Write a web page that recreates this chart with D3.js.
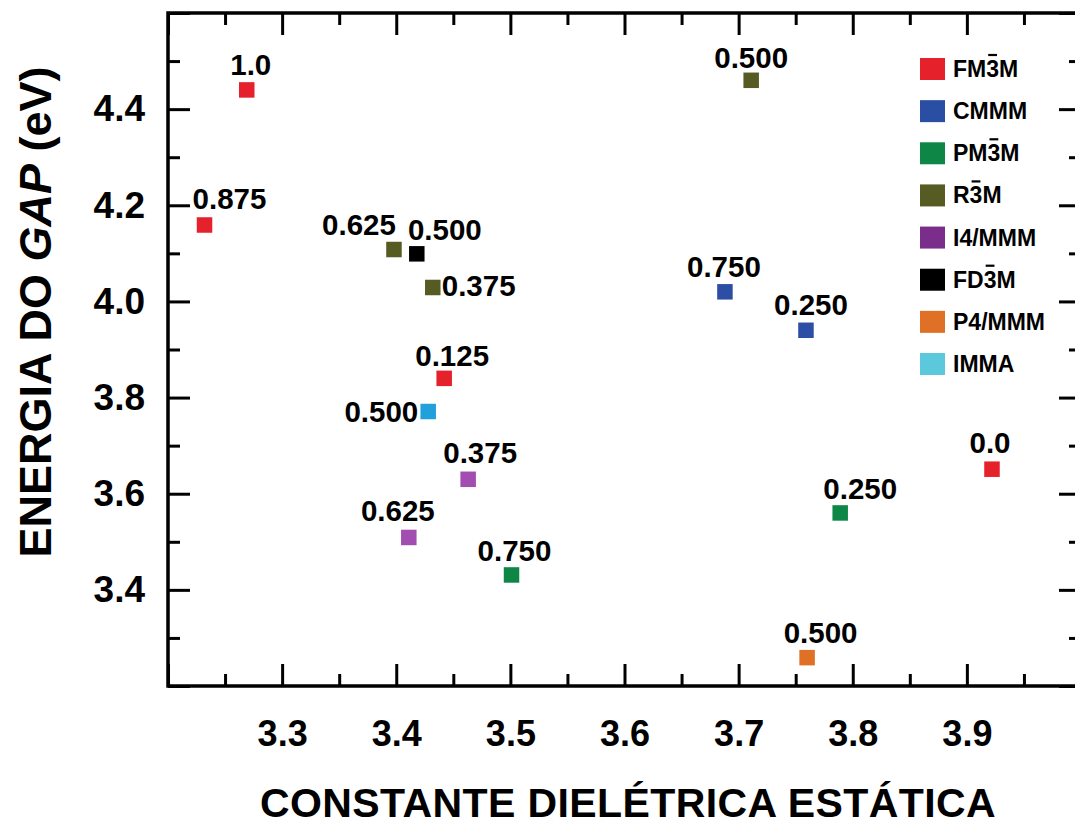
<!DOCTYPE html>
<html>
<head>
<meta charset="utf-8">
<script src="https://cdn.jsdelivr.net/npm/d3@7/dist/d3.min.js"></script>
<style>
  html, body { margin: 0; padding: 0; background: #fff; }
  svg { display: block; }
  text { font-family: "Liberation Sans", Arial, sans-serif; font-weight: bold; fill: #000; }
</style>
</head>
<body>
<svg id="chart" width="1075" height="826"></svg>
<script>
// ---------- DATA ----------
const phases = ["FM3M", "CMMM", "PM3M", "R3M", "I4/MMM", "FD3M", "P4/MMM", "IMMA"];
const phaseBarIndex = [2, -1, 2, 1, -1, 2, -1, -1]; // index of the "3" carrying an overbar
const legendColors = ["#e5212b", "#2a4ea3", "#0e8746", "#565a23", "#7b2d8c", "#000000", "#e07026", "#5cc8dc"];
const pointColors  = ["#e5212b", "#2c4fa5", "#0e8746", "#565a23", "#a24db0", "#000000", "#e07026", "#22a0dc"];

const pointPhase = [0, 0, 0, 0, 1, 1, 2, 2, 3, 3, 3, 4, 4, 5, 6, 7];
const pointX = [3.269, 3.232, 3.442, 3.922, 3.688, 3.759, 3.789, 3.501, 3.711, 3.398, 3.432, 3.463, 3.411, 3.418, 3.760, 3.428];
const pointY = [4.440, 4.159, 3.840, 3.651, 4.020, 3.940, 3.560, 3.431, 4.460, 4.108, 4.029, 3.630, 3.509, 4.099, 3.259, 3.771];
const pointLabel = ["1.0", "0.875", "0.125", "0.0", "0.750", "0.250", "0.250", "0.750", "0.500", "0.625", "0.375", "0.375", "0.625", "0.500", "0.500", "0.500"];

const xMajorTicks = [3.2, 3.3, 3.4, 3.5, 3.6, 3.7, 3.8, 3.9, 4.0];
const xMinorTicks = [3.25, 3.35, 3.45, 3.55, 3.65, 3.75, 3.85, 3.95];
const xTickLabels = [3.3, 3.4, 3.5, 3.6, 3.7, 3.8, 3.9];
const yMajorTicks = [3.2, 3.4, 3.6, 3.8, 4.0, 4.2, 4.4, 4.6];
const yMinorTicks = [3.3, 3.5, 3.7, 3.9, 4.1, 4.3, 4.5];
const yTickLabels = [3.4, 3.6, 3.8, 4.0, 4.2, 4.4];

// label placement (layout only): [anchor, dx, dy]
const labelPlacement = [
  ["middle", 4, -15], ["middle", 25, -16], ["middle", 8, -12], ["middle", -2, -16.5],
  ["middle", -1, -14.5], ["middle", 5, -15], ["middle", 20, -14], ["middle", 3, -14],
  ["middle", 0, -12], ["middle", -35, -15], ["start", 9, 9], ["middle", 12, -16.5],
  ["middle", -11, -16.5], ["middle", 28, -13.5], ["middle", 13.5, -14.5], ["end", -10, 10]
];

// ---------- LAYOUT ----------
const svg = d3.select("#chart");
const L = 168, R = 1081, T = 13, B = 686;
const x = d3.scaleLinear().domain([3.2, 4.0]).range([L, R]);
const y = d3.scaleLinear().domain([3.2, 4.6]).range([B, T]);

const axisStroke = 3;
function styleTicks(g) {
  g.select(".domain").remove();
  g.selectAll(".tick line").attr("stroke", "#000").attr("stroke-width", axisStroke);
  g.selectAll(".tick text").remove();
}

// bottom
svg.append("g").attr("transform", `translate(0,${B})`)
  .call(d3.axisBottom(x).tickValues(xMajorTicks).tickSize(-22).tickFormat("")).call(styleTicks);
svg.append("g").attr("transform", `translate(0,${B})`)
  .call(d3.axisBottom(x).tickValues(xMinorTicks).tickSize(-12).tickFormat("")).call(styleTicks);
// top
svg.append("g").attr("transform", `translate(0,${T})`)
  .call(d3.axisTop(x).tickValues(xMajorTicks).tickSize(-22).tickFormat("")).call(styleTicks);
svg.append("g").attr("transform", `translate(0,${T})`)
  .call(d3.axisTop(x).tickValues(xMinorTicks).tickSize(-12).tickFormat("")).call(styleTicks);
// left
svg.append("g").attr("transform", `translate(${L},0)`)
  .call(d3.axisLeft(y).tickValues(yMajorTicks).tickSize(-22).tickFormat("")).call(styleTicks);
svg.append("g").attr("transform", `translate(${L},0)`)
  .call(d3.axisLeft(y).tickValues(yMinorTicks).tickSize(-12).tickFormat("")).call(styleTicks);
// right
svg.append("g").attr("transform", `translate(${R},0)`)
  .call(d3.axisRight(y).tickValues(yMajorTicks).tickSize(-22).tickFormat("")).call(styleTicks);
svg.append("g").attr("transform", `translate(${R},0)`)
  .call(d3.axisRight(y).tickValues(yMinorTicks).tickSize(-12).tickFormat("")).call(styleTicks);

// frame
svg.append("rect").attr("x", L).attr("y", T).attr("width", R - L).attr("height", B - T)
  .attr("fill", "none").attr("stroke", "#000").attr("stroke-width", 3.5);

// tick labels
const xl = svg.append("g").attr("transform", `translate(0,${B})`)
  .call(d3.axisBottom(x).tickValues(xTickLabels).tickSize(0).tickPadding(34).tickFormat(d3.format(".1f")));
xl.select(".domain").remove();
xl.selectAll("text").attr("font-size", 36).attr("font-family", "Liberation Sans, Arial, sans-serif").attr("font-weight", "bold").attr("fill", "#000");

const yl = svg.append("g").attr("transform", `translate(${L},0)`)
  .call(d3.axisLeft(y).tickValues(yTickLabels).tickSize(0).tickPadding(23).tickFormat(d3.format(".1f")));
yl.select(".domain").remove();
yl.selectAll("text").attr("font-size", 37).attr("font-family", "Liberation Sans, Arial, sans-serif").attr("font-weight", "bold").attr("fill", "#000");

// axis titles
svg.append("text").attr("x", 628).attr("y", 817).attr("text-anchor", "middle")
  .attr("font-size", 41).attr("letter-spacing", 0.4).text("CONSTANTE DIELÉTRICA ESTÁTICA");

const yt = svg.append("text").attr("transform", "translate(51,312) rotate(-90)")
  .attr("text-anchor", "middle").attr("font-size", 45);
yt.append("tspan").text("ENERGIA DO ");
yt.append("tspan").attr("font-style", "italic").text("GAP");
yt.append("tspan").text(" (eV)");

// points
const S = 15.5;
const idx = d3.range(pointX.length);
svg.append("g").selectAll("rect").data(idx).join("rect")
  .attr("x", i => x(pointX[i]) - S / 2)
  .attr("y", i => y(pointY[i]) - S / 2)
  .attr("width", S).attr("height", S)
  .attr("fill", i => pointColors[pointPhase[i]]);

svg.append("g").selectAll("text").data(idx).join("text")
  .attr("x", i => x(pointX[i]) + labelPlacement[i][1])
  .attr("y", i => y(pointY[i]) + labelPlacement[i][2])
  .attr("text-anchor", i => labelPlacement[i][0])
  .attr("font-size", 29.5)
  .text(i => pointLabel[i]);

// legend
const lg = svg.append("g");
const legY = d3.scaleLinear().domain([0, 7]).range([69, 364]);
phases.forEach((p, i) => {
  const cy = legY(i);
  lg.append("rect").attr("x", 920).attr("y", cy - 11).attr("width", 25).attr("height", 22)
    .attr("fill", legendColors[i]);
  const t = lg.append("text").attr("x", 953).attr("y", cy + 8).attr("font-size", 23).text(p);
  if (phaseBarIndex[i] >= 0) {
    const ext = t.node().getExtentOfChar(phaseBarIndex[i]);
    lg.append("line")
      .attr("x1", ext.x + 2).attr("x2", ext.x + ext.width - 2)
      .attr("y1", cy - 14).attr("y2", cy - 14)
      .attr("stroke", "#000").attr("stroke-width", 2.2);
  }
});
</script>
</body>
</html>
